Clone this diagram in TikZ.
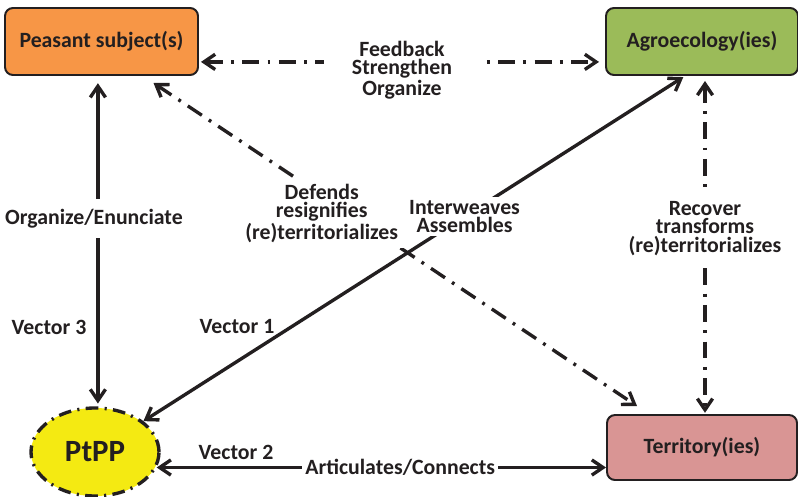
\documentclass[tikz,border=0pt]{standalone}
\usepackage{fontspec}
\setmainfont{Carlito}
\usetikzlibrary{arrows.meta,shapes.geometric}
\definecolor{txt}{HTML}{231F20}
\definecolor{peasantorange}{HTML}{F79646}
\definecolor{agrogreen}{HTML}{9BBB59}
\definecolor{terrpink}{HTML}{D99594}
\definecolor{ptppyellow}{HTML}{F4EA12}
\begin{document}
\begin{tikzpicture}[
    font=\bfseries\fontsize{15.5}{13}\selectfont, text=txt,
    box/.style={draw=txt, line width=1.4pt, rounded corners=0.2cm, minimum height=1.675cm},
    vec/.style={draw=txt, line width=2.4pt, {Straight Barb[length=2.8mm,width=3.8mm]}-{Straight Barb[length=2.8mm,width=3.8mm]}},
    linkdash/.style={vec, dash pattern=on 12pt off 6pt on 2pt off 6pt},
    lbl/.style={fill=white, align=center, inner sep=2pt}
  ]
  \useasboundingbox (0,0) rectangle (19.95,12.4);

  % BOXES
  \node[box, fill=peasantorange, minimum width=4.825cm] (peasant) at (2.5375,11.3625) {Peasant subject(s)};
  \node[box, fill=agrogreen, minimum width=4.8cm] (agro) at (17.55,11.3625) {Agroecology(ies)};
  \node[box, fill=terrpink, minimum width=4.75cm, minimum height=1.625cm] (territory) at (17.55,1.2125) {Territory(ies)};
  \node[ellipse, draw=txt, fill=ptppyellow, line width=2.4pt, dash pattern=on 9pt off 4.5pt on 1.5pt off 4.5pt,
        minimum width=3.2cm, minimum height=2.2cm, font=\bfseries\fontsize{22}{22}\selectfont] (ptpp) at (2.375,1.1) {PtPP};

  \coordinate (v3) at ([xshift=-0.09cm]peasant.south);
  \coordinate (v1) at ([xshift=-0.425cm]agro.south);
  \coordinate (d1) at ([xshift=1.3cm,yshift=-0.175cm]peasant.south);
  \coordinate (d2) at ([xshift=0.775cm,yshift=0.2cm]territory.north west);
  \coordinate (r1) at ([xshift=0.075cm,yshift=-0.125cm]agro.south);
  \coordinate (v2) at ([yshift=-0.5cm]territory.west);
  \coordinate (v2a) at (ptpp.east |- v2);

  % LINKS
  \draw[linkdash, shorten <=0.05cm, shorten >=0.15cm] ([yshift=-0.51cm]peasant.east) -- node[lbl, inner xsep=0.7cm, yshift=-0.2cm] {Feedback\\Strengthen\\Organize} ([yshift=-0.51cm]agro.west);
  \draw[vec, shorten <=0.18cm, shorten >=0.07cm] (v3) -- node[lbl, pos=0.432, xshift=-0.1cm, inner ysep=0.25cm] {Organize/Enunciate} (v3 |- ptpp.north);
  \draw[vec, shorten <=0.05cm] (v1) -- node[lbl, pos=0.407] {Interweaves\\Assembles} (ptpp);
  \draw[linkdash] (d1) -- node[lbl, pos=0.348, yshift=-0.45cm, inner sep=4pt] {Defends\\resignifies\\(re)territorializes} (d2);
  \draw[linkdash, shorten >=0.03cm] (r1) -- node[lbl, pos=0.443, inner ysep=0.2cm] {Recover\\transforms\\(re)territorializes} (r1 |- territory.north);
  \draw[vec] ([xshift=-0.1cm]v2a) -- node[lbl, pos=0.542, inner xsep=0.08cm] {Articulates/Connects} (v2);

  % VECTORS
  \node (vec3) at (1.225,4.225) {Vector 3};
  \node (vec1) at (5.925,4.225) {Vector 1};
  \node (vec2) at (5.9,1.1) {Vector 2};
\end{tikzpicture}
\end{document}
